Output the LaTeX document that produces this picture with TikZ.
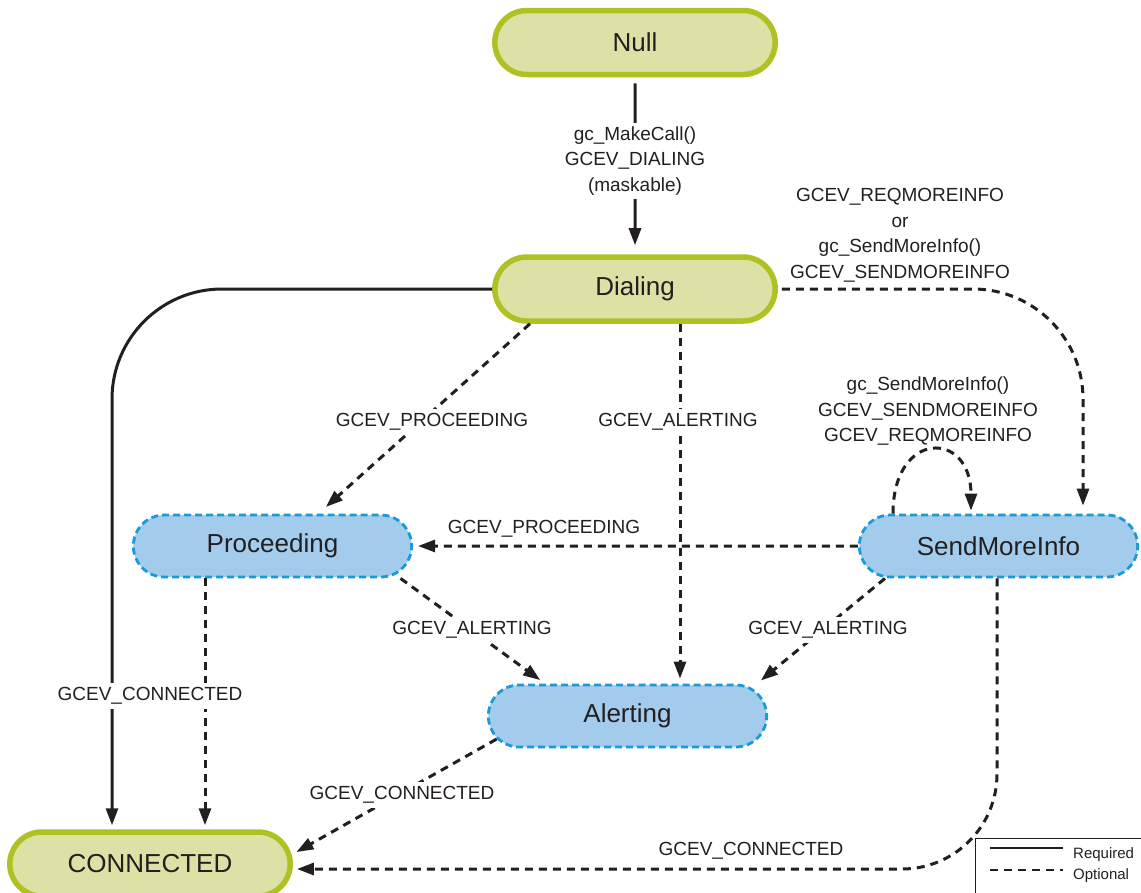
\documentclass[tikz,border=0pt]{standalone}
\usepackage{fontspec}
\setmainfont{Liberation Sans}
\usetikzlibrary{arrows.meta,shapes.misc,calc}

\definecolor{stategreen}{HTML}{DCE2A6}
\definecolor{stateline}{HTML}{B0C124}
\definecolor{optfill}{HTML}{A3CCEC}
\definecolor{optline}{HTML}{1A9AD8}
\definecolor{ink}{HTML}{231F20}

\begin{document}
\begin{tikzpicture}[x=1pt,y=-1pt,
  reqstate/.style={rounded rectangle, draw=stateline, fill=stategreen, line width=5.5pt,
    minimum width=287pt, minimum height=64pt, text=ink, font=\fontsize{26}{30}\selectfont},
  optstate/.style={rounded rectangle, draw=optline, fill=optfill, line width=2.8pt,
    dash pattern=on 7pt off 4pt, minimum width=285pt, minimum height=62pt,
    text=ink, font=\fontsize{26}{30}\selectfont},
  conn/.style={draw=ink, line width=3pt, -{Triangle[length=17pt,width=12pt]}},
  req/.style={conn},
  opt/.style={conn, dash pattern=on 8pt off 6pt},
  lbl/.style={text=ink, font=\fontsize{19}{25.5}\selectfont, align=center, inner sep=2pt, yshift=-3pt},
  cut/.style={lbl, fill=white, inner sep=4pt},
  legtext/.style={anchor=west, text=ink, font=\fontsize{15}{18}\selectfont, inner sep=0pt},
]
\useasboundingbox (0,0) rectangle (1141,892);
\clip (0,0) rectangle (1141,892);

% states
\node[reqstate] (null) at (635,42.5) {Null};
\node[reqstate] (dialing) at (635,289) {Dialing};
\node[optstate] (proceeding) at (272.5,546) {Proceeding};
\node[optstate] (smi) at (998.5,546) {SendMoreInfo};
\node[optstate] (alerting) at (627.5,716) {Alerting};
\node[reqstate] (connected) at (150,864) {CONNECTED};

% helper points for bent connectors
\coordinate (cin) at ([xshift=-38pt]connected.north);
\coordinate (sin) at ([xshift=84.5pt]smi.north);
\coordinate (cend) at ([yshift=-5pt]connected.east);

% Null -> Dialing
\draw[req, shorten <=6pt, shorten >=9pt] (null) -- (dialing);
\node[cut] (lmake) at (635,158) {gc\_MakeCall()\\GCEV\_DIALING\\(maskable)};

% Dialing -> CONNECTED
\draw[req, rounded corners=110pt, shorten >=4pt] (dialing.west) -- (dialing.west -| cin) -- (cin);

% Dialing -> Proceeding
\draw[opt, shorten >=10pt] ([xshift=-105pt]dialing.south) -- ([xshift=46pt]proceeding.north);
\node[cut] (ldp) at (432,419) {GCEV\_PROCEEDING};

% Dialing -> Alerting
\draw[opt, shorten >=5pt] ([xshift=45pt]dialing.south) -- ([xshift=52.5pt]alerting.north);
\node[cut] (lda) at (678,419) {GCEV\_ALERTING};

% Dialing -> SendMoreInfo
\draw[opt, rounded corners=110pt, shorten <=4pt, shorten >=8pt] (dialing.east) -- (dialing.east -| sin) -- (sin);
\node[lbl] (lds) at (900,232) {GCEV\_REQMOREINFO\\or\\gc\_SendMoreInfo()\\GCEV\_SENDMOREINFO};

% SendMoreInfo self loop
\draw[opt, shorten >=3pt] ([xshift=-105.5pt]smi.north) .. controls +(0,-84) and +(0,-84) .. ([xshift=-27.5pt]smi.north);
\node[lbl] (lss) at (928,408) {gc\_SendMoreInfo()\\GCEV\_SENDMOREINFO\\GCEV\_REQMOREINFO};

% SendMoreInfo -> Proceeding
\draw[opt, shorten >=5pt] (smi) -- (proceeding);
\node[lbl] (lsp) at (544,526) {GCEV\_PROCEEDING};

% Proceeding -> Alerting
\draw[opt, shorten >=6pt] ([xshift=128pt]proceeding.south) -- ([xshift=-82.5pt]alerting.north);
\node[cut] (lpa) at (472,627) {GCEV\_ALERTING};

% SendMoreInfo -> Alerting
\draw[opt, shorten >=5pt] ([xshift=-113.5pt]smi.south) -- ([xshift=129.5pt]alerting.north);
\node[cut] (lsa) at (828,627) {GCEV\_ALERTING};

% Proceeding -> CONNECTED
\draw[opt, shorten >=4pt] ([xshift=-67.5pt]proceeding.south) -- ([xshift=55pt]connected.north);

% Alerting -> CONNECTED
\draw[opt, shorten >=4pt] (alerting.190) -- ([yshift=10pt]connected.east);
\node[cut] (lac) at (402,792) {GCEV\_CONNECTED};

% SendMoreInfo -> CONNECTED
\draw[opt, rounded corners=95pt, shorten >=4pt] ([xshift=-1.5pt]smi.south) -- ([xshift=-1.5pt]smi.south |- cend) -- (cend);
\node[lbl] (lsc) at (751,848) {GCEV\_CONNECTED};

% label shared by both left-hand connectors
\node[cut] (lpc) at (150,693) {GCEV\_CONNECTED};

% legend
\draw[line width=1pt, draw=ink] (975,838) rectangle (1160,910);
\draw[line width=2.5pt, draw=ink] (990,848) -- (1063,848);
\draw[line width=2.5pt, draw=ink, dash pattern=on 8pt off 6pt] (990,870) -- (1063,870);
\node[legtext] (lreq) at (1073,855) {Required};
\node[legtext] (lopt) at (1073,876) {Optional};
\end{tikzpicture}
\end{document}
